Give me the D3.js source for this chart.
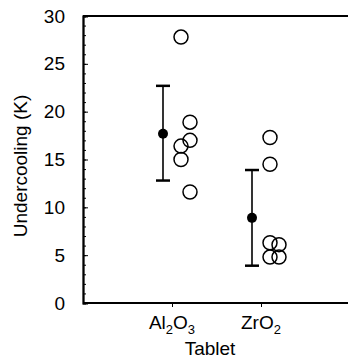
<!DOCTYPE html>
<html>
<head>
<meta charset="utf-8">
<script src="https://cdn.jsdelivr.net/npm/d3@7"></script>
<style>
  body { margin: 0; background: #fff; }
  text { font-family: "Liberation Sans", Arial, sans-serif; fill: #000; }
</style>
</head>
<body>
<svg id="chart" width="348" height="361"></svg>
<script>
// categories (x labels as [text, isSubscript] parts)
var categories = ["Al2O3", "ZrO2"];
var catLabels = [
  [["Al", 0], ["2", 1], ["O", 0], ["3", 1]],
  [["Zr", 0], ["O", 0], ["2", 1]]
];
// mean and error bar limits
var means = [17.7, 8.9];
var errHigh = [22.7, 13.9];
var errLow = [12.8, 3.9];
// individual runs
var runCat = ["Al2O3", "Al2O3", "Al2O3", "Al2O3", "Al2O3", "Al2O3",
              "ZrO2", "ZrO2", "ZrO2", "ZrO2", "ZrO2", "ZrO2"];
var runValue = [27.8, 18.9, 17.0, 16.4, 15.0, 11.6,
                17.3, 14.5, 6.3, 6.1, 4.8, 4.8];
var runCol = [0, 1, 1, 0, 0, 1,
              0, 0, 0, 1, 0, 1];
var yTicks = [0, 5, 10, 15, 20, 25, 30];

var svg = d3.select("#chart");
var mLeft = 83, mRight = 350, mTop = 16, mBottom = 303;

var x = d3.scalePoint().domain(categories).range([mLeft, mRight]).padding(1);
var y = d3.scaleLinear().domain([0, 30]).range([mBottom, mTop]);
var off = 9;

// frame (top line)
svg.append("line")
  .attr("x1", mLeft).attr("x2", mRight)
  .attr("y1", y(30)).attr("y2", y(30))
  .attr("stroke", "#000").attr("stroke-width", 1.8);

// y axis with minor ticks inside
var yAxis = svg.append("g").attr("transform", "translate(" + mLeft + ",0)");
yAxis.call(d3.axisLeft(y).tickValues(d3.range(0, 31, 1)).tickSize(-3).tickFormat(""));
yAxis.selectAll(".tick line").attr("stroke-width", 1);
var yMajor = svg.append("g").attr("transform", "translate(" + mLeft + ",0)");
yMajor.call(d3.axisLeft(y).tickValues(yTicks).tickSize(-5).tickPadding(18));
yMajor.selectAll(".tick text").style("font-size", "19px").style("font-family", "Liberation Sans, Arial, sans-serif");
yMajor.selectAll(".tick line").attr("stroke-width", 1);
svg.selectAll(".domain").attr("stroke-width", 1.8);

// x axis
var xAxis = svg.append("g").attr("transform", "translate(0," + mBottom + ")");
xAxis.call(d3.axisBottom(x).tickSize(4).tickSizeOuter(0).tickFormat(""));
xAxis.select(".domain").attr("d", "M" + mLeft + ",0H" + mRight).attr("stroke-width", 1.8);

// subscripted category labels
categories.forEach(function(c, i) {
  var t = svg.append("text")
    .attr("x", x(c)).attr("y", 329)
    .attr("text-anchor", "middle")
    .style("font-size", "19px");
  var parts = catLabels[i];
  parts.forEach(function(p, j) {
    var s = t.append("tspan").text(p[0]);
    if (p[1]) s.style("font-size", "13px").attr("dy", 5);
    else if (j > 0 && parts[j - 1][1]) s.attr("dy", -5);
  });
});

// axis titles
svg.append("text")
  .attr("x", 210).attr("y", 355)
  .attr("text-anchor", "middle")
  .style("font-size", "19px")
  .text("Tablet");
svg.append("text")
  .attr("transform", "translate(27,166) rotate(-90)")
  .attr("text-anchor", "middle")
  .style("font-size", "19px")
  .text("Undercooling (K)");

// error bars
var capW = 7;
categories.forEach(function(c, i) {
  var cx = x(c) - off;
  svg.append("line")
    .attr("x1", cx).attr("x2", cx)
    .attr("y1", y(errHigh[i])).attr("y2", y(errLow[i]))
    .attr("stroke", "#000").attr("stroke-width", 1.6);
  [errHigh[i], errLow[i]].forEach(function(v) {
    svg.append("line")
      .attr("x1", cx - capW).attr("x2", cx + capW)
      .attr("y1", y(v)).attr("y2", y(v))
      .attr("stroke", "#000").attr("stroke-width", 2.5);
  });
  svg.append("circle")
    .attr("cx", cx).attr("cy", y(means[i])).attr("r", 5)
    .attr("fill", "#000");
});

// open circles for runs
svg.selectAll("circle.run")
  .data(runValue)
  .enter().append("circle")
  .attr("class", "run")
  .attr("cx", function(d, i) { return x(runCat[i]) + off * (runCol[i] + 1); })
  .attr("cy", function(d) { return y(d); })
  .attr("r", 7)
  .attr("fill", "none")
  .attr("stroke", "#000")
  .attr("stroke-width", 1.5);
</script>
</body>
</html>
